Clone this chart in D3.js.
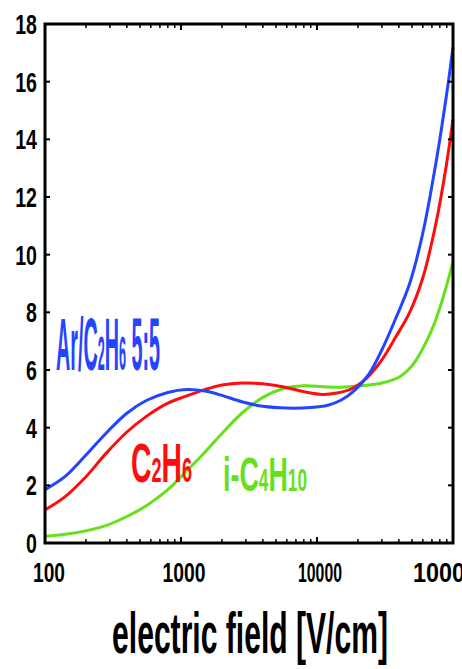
<!DOCTYPE html>
<html><head><meta charset="utf-8">
<script src="https://cdn.jsdelivr.net/npm/d3@7"></script>
<style>html,body{margin:0;padding:0;background:#fff;}svg{display:block;}</style>
</head><body>
<svg id="c" width="462" height="669"></svg>
<script>
// ---- data ----
const fieldBlue = [100,140,200,280,400,560,800,1100,1500,2000,2800,4000,6000,9000,12000,15000,19000,24000,30000,38000,48000,60000,75000,90000,100000];
const gainBlue  = [1.85,2.3,3.05,3.8,4.5,4.95,5.22,5.32,5.27,5.12,4.9,4.74,4.68,4.7,4.78,4.95,5.3,5.85,6.7,7.8,9.0,10.75,13.2,15.6,17.2];
const fieldRed  = [100,140,200,280,400,560,800,1100,1500,2000,2800,4000,5600,8000,11000,14000,18000,23000,30000,38000,48000,60000,75000,90000,100000];
const gainRed   = [1.15,1.6,2.3,3.1,3.85,4.4,4.85,5.1,5.32,5.48,5.55,5.52,5.42,5.25,5.15,5.2,5.35,5.7,6.35,7.15,8.0,9.2,11.1,13.2,14.7];
const fieldGreen= [100,140,200,280,400,560,800,1100,1500,2000,2800,4000,5600,8000,11000,15000,21000,30000,40000,50000,60000,70000,80000,90000,100000];
const gainGreen = [0.23,0.3,0.42,0.6,0.92,1.3,1.85,2.5,3.15,3.8,4.5,5.05,5.35,5.45,5.42,5.4,5.45,5.55,5.75,6.15,6.75,7.4,8.15,8.95,9.76];
const xTickValues = [100,1000,10000,100000];
const xTickLabels = ["100","1000","10000","100000"];
const yTickValues = [0,2,4,6,8,10,12,14,16,18];
const xTitle = "electric field [V/cm]";

const svg = d3.select("#c");
const L=45, R=453, T=24, B=543;
const x = d3.scaleLog().domain([100,100000]).range([L,R]);
const y = d3.scaleLinear().domain([0,18]).range([B,T]);
const FONT = "'Liberation Sans', Arial, sans-serif";

function fit(t, px, py, width, anchor){
  const w = t.node().getBBox().width;
  const sx = width / w;
  t.attr("text-anchor", anchor||"start")
   .attr("transform", `translate(${px},${py}) scale(${sx},1)`);
}

const series = [
  {f:fieldGreen, g:gainGreen, c:"#66e01a"},
  {f:fieldRed, g:gainRed, c:"#ff0c0c"},
  {f:fieldBlue, g:gainBlue, c:"#2445ff"}
];
const line = d3.line().x(d=>x(d[0])).y(d=>y(d[1])).curve(d3.curveCatmullRom.alpha(0.5));
series.forEach(s=>{
  svg.append("path").datum(s.f.map((v,i)=>[v,s.g[i]]))
    .attr("d", line).attr("fill","none").attr("stroke", s.c).attr("stroke-width",3);
});

// frame
const fr = svg.append("g").attr("stroke","#000").attr("fill","none");
fr.append("rect").attr("x",L).attr("y",T).attr("width",R-L).attr("height",B-T).attr("stroke-width",3);
yTickValues.forEach(v=>{
  fr.append("line").attr("x1",L).attr("x2",L+5).attr("y1",y(v)).attr("y2",y(v)).attr("stroke-width",2);
  fr.append("line").attr("x1",R).attr("x2",R-5).attr("y1",y(v)).attr("y2",y(v)).attr("stroke-width",2);
});
const minor = [];
[100,1000,10000].forEach(d=>{ for(let k=2;k<=9;k++) minor.push(d*k); });
xTickValues.forEach(v=>{
  fr.append("line").attr("x1",x(v)).attr("x2",x(v)).attr("y1",B).attr("y2",B-6).attr("stroke-width",2);
  fr.append("line").attr("x1",x(v)).attr("x2",x(v)).attr("y1",T).attr("y2",T+6).attr("stroke-width",2);
});
minor.forEach(v=>{
  fr.append("line").attr("x1",x(v)).attr("x2",x(v)).attr("y1",B).attr("y2",B-4).attr("stroke-width",1.5);
  fr.append("line").attr("x1",x(v)).attr("x2",x(v)).attr("y1",T).attr("y2",T+4).attr("stroke-width",1.5);
});

// y labels
yTickValues.forEach(v=>{
  svg.append("text").text(String(v)).attr("font-family",FONT).attr("font-weight","bold")
    .attr("font-size",28).attr("fill","#000")
    .attr("text-anchor","end").attr("transform",`translate(37,${y(v)+10}) scale(0.7,1)`);
});
// x labels
const xLabelW = [32,43,44,78];
xTickValues.forEach((v,i)=>{
  const t = svg.append("text").text(xTickLabels[i]).attr("font-family",FONT).attr("font-weight","bold")
    .attr("font-size",28).attr("fill","#000");
  fit(t, i===0?49:x(v)+(i===3?-1:3), 582, xLabelW[i], "middle");
});
// x title
const tt = svg.append("text").text(xTitle).attr("font-family",FONT).attr("font-weight","bold")
  .attr("font-size",58).attr("fill","#000");
fit(tt, 250, 653, 276, "middle");

// legends
function formula(parts, fs, color, px, py, width){
  const t = svg.append("text").attr("font-family",FONT).attr("font-weight","bold")
    .attr("font-size",fs).attr("fill",color);
  parts.forEach(p=>{
    const s = t.append("tspan").text(p[0]);
    if(p[1]) s.attr("font-size",fs*0.64);
  });
  fit(t, px, py, width, "start");
}
formula([["Ar/C"],["2",1],["H"],["6",1],[" 5:5"]], 74, "#2445ff", 56, 370, 104);
formula([["C"],["2",1],["H"],["6",1]], 56, "#ff0c0c", 131, 482, 61);
formula([["i-C"],["4",1],["H"],["10",1]], 49, "#66e01a", 223, 491, 84);
</script>
</body></html>
